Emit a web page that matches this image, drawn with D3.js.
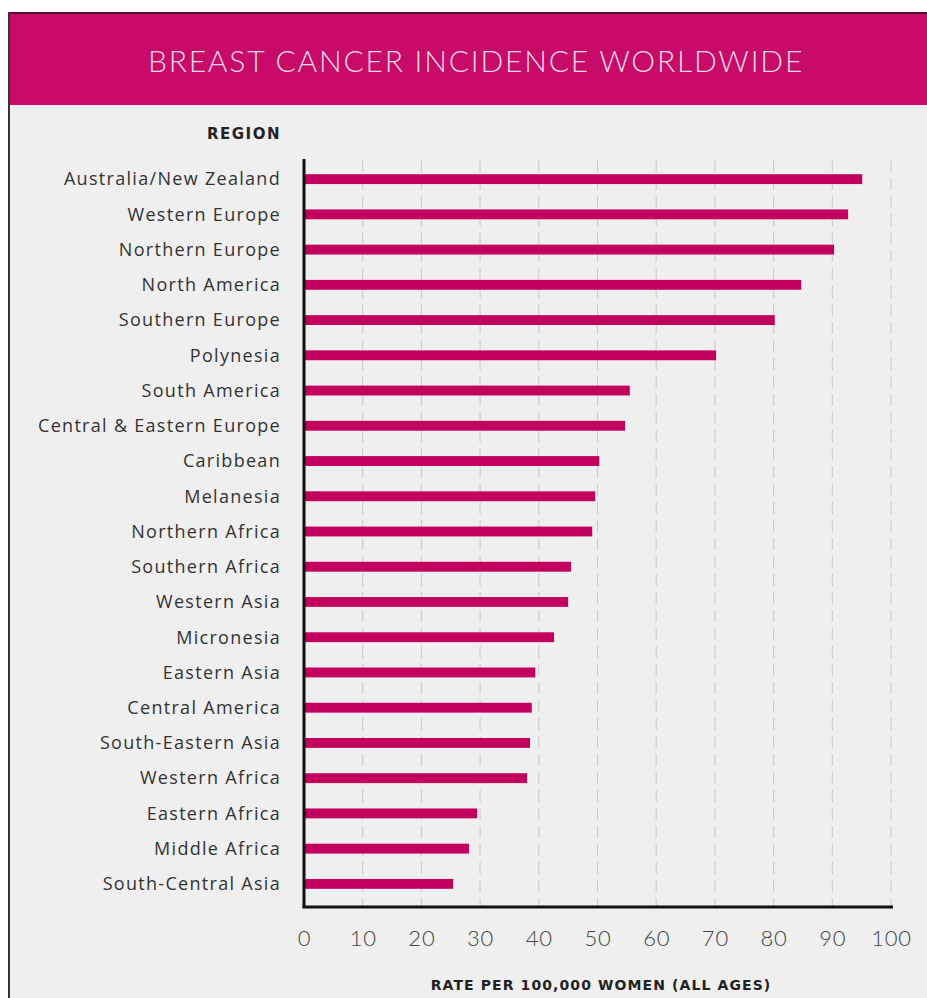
<!DOCTYPE html>
<html lang="en">
<head>
    <meta charset="UTF-8">
    <title>Breast Cancer Incidence Worldwide</title>
    <style>
        body { margin: 0; background: #fff; }
        svg { display: block; }
    </style>
</head>
<body>
    <div id="chart"></div>
    <script src="https://d3js.org/d3.v7.min.js"></script>
    <script>
        var regions = ["Australia/New Zealand", "Western Europe", "Northern Europe", "North America",
            "Southern Europe", "Polynesia", "South America", "Central & Eastern Europe", "Caribbean",
            "Melanesia", "Northern Africa", "Southern Africa", "Western Asia", "Micronesia",
            "Eastern Asia", "Central America", "South-Eastern Asia", "Western Africa",
            "Eastern Africa", "Middle Africa", "South-Central Asia"];
        var rates = [95.1, 92.7, 90.3, 84.7, 80.2, 70.2, 55.5, 54.7, 50.3, 49.6, 49.1,
            45.5, 45, 42.6, 39.4, 38.8, 38.5, 38, 29.5, 28.1, 25.4];
        var xTicks = [0, 10, 20, 30, 40, 50, 60, 70, 80, 90, 100];

        var W = 927, H = 998;
        var pink = "#c2015f";

        var svg = d3.select('#chart')
            .append('svg')
                .attr('width', W)
                .attr('height', H);

        // panel + header
        svg.append('rect').attr('x', 8).attr('y', 12).attr('width', W - 8).attr('height', H - 12)
            .attr('fill', '#efefef');
        svg.append('rect').attr('x', 8).attr('y', 12).attr('width', W - 8).attr('height', 93)
            .attr('fill', '#c80a68');
        svg.append('line').attr('x1', 8).attr('x2', W).attr('y1', 13).attr('y2', 13)
            .attr('stroke', '#5a0a2a').attr('stroke-width', 2);
        svg.append('line').attr('x1', 9).attr('x2', 9).attr('y1', 12).attr('y2', H)
            .attr('stroke', '#333').attr('stroke-width', 2);

        svg.append('text')
            .attr('x', 476).attr('y', 72)
            .attr('text-anchor', 'middle')
            .style('font-family', 'Lato, sans-serif')
            .style('font-weight', 300)
            .style('font-size', '30px')
            .style('letter-spacing', '1.8px')
            .style('fill', '#f7dbe9')
            .text('BREAST CANCER INCIDENCE WORLDWIDE');

        var x = d3.scaleLinear()
            .domain([0, 100])
            .range([304, 891]);

        var y = d3.scaleBand()
            .domain(regions)
            .range([161.5, 901.5])
            .paddingInner(0.72)
            .paddingOuter(0.36);

        // dashed grid
        svg.append('g')
            .selectAll('line')
            .data(xTicks.slice(1))
            .enter().append('line')
                .attr('x1', d => x(d)).attr('x2', d => x(d))
                .attr('y1', 160).attr('y2', 906)
                .attr('stroke', '#c8c8c8')
                .attr('stroke-width', 1)
                .attr('stroke-dasharray', '12,6');

        // bars
        svg.append('g')
            .selectAll('rect')
            .data(regions)
            .enter().append('rect')
                .attr('x', x(0))
                .attr('y', d => y(d))
                .attr('width', (d, i) => x(rates[i]) - x(0))
                .attr('height', y.bandwidth())
                .attr('fill', pink);

        // region labels
        svg.append('g')
            .selectAll('text')
            .data(regions)
            .enter().append('text')
                .attr('x', 281)
                .attr('y', d => y(d) + y.bandwidth() / 2)
                .attr('dy', '0.35em')
                .attr('text-anchor', 'end')
                .style('font-family', '"Open Sans", sans-serif')
                .style('font-size', '18px')
                .style('letter-spacing', '1.3px')
                .style('fill', '#333')
                .text(d => d);

        svg.append('text')
            .attr('x', 281).attr('y', 139)
            .attr('text-anchor', 'end')
            .style('font-family', '"DejaVu Sans", sans-serif')
            .style('font-weight', 'bold')
            .style('font-size', '15px')
            .style('letter-spacing', '1.5px')
            .style('fill', '#222')
            .text('REGION');

        // axes lines
        svg.append('line').attr('x1', x(0)).attr('x2', x(0)).attr('y1', 159).attr('y2', 908)
            .attr('stroke', '#111').attr('stroke-width', 3);
        svg.append('line').attr('x1', x(0) - 1.5).attr('x2', 893).attr('y1', 907).attr('y2', 907)
            .attr('stroke', '#111').attr('stroke-width', 3);

        // x tick labels
        var xAxis = svg.append('g')
            .attr('transform', 'translate(0,930)')
            .call(d3.axisBottom(x).tickValues(xTicks).tickSize(0).tickPadding(0));
        xAxis.select('.domain').remove();
        xAxis.selectAll('text')
            .attr('dy', '0.71em')
            .style('font-family', 'Lato, sans-serif')
            .style('font-size', '22px')
            .style('font-weight', 300)
            .style('letter-spacing', '0.8px')
            .style('fill', '#444');

        svg.append('text')
            .attr('x', 601).attr('y', 990)
            .attr('text-anchor', 'middle')
            .style('font-family', '"DejaVu Sans", sans-serif')
            .style('font-weight', 'bold')
            .style('font-size', '14px')
            .style('letter-spacing', '1.1px')
            .style('fill', '#222')
            .text('RATE PER 100,000 WOMEN (ALL AGES)');
    </script>
</body>
</html>
